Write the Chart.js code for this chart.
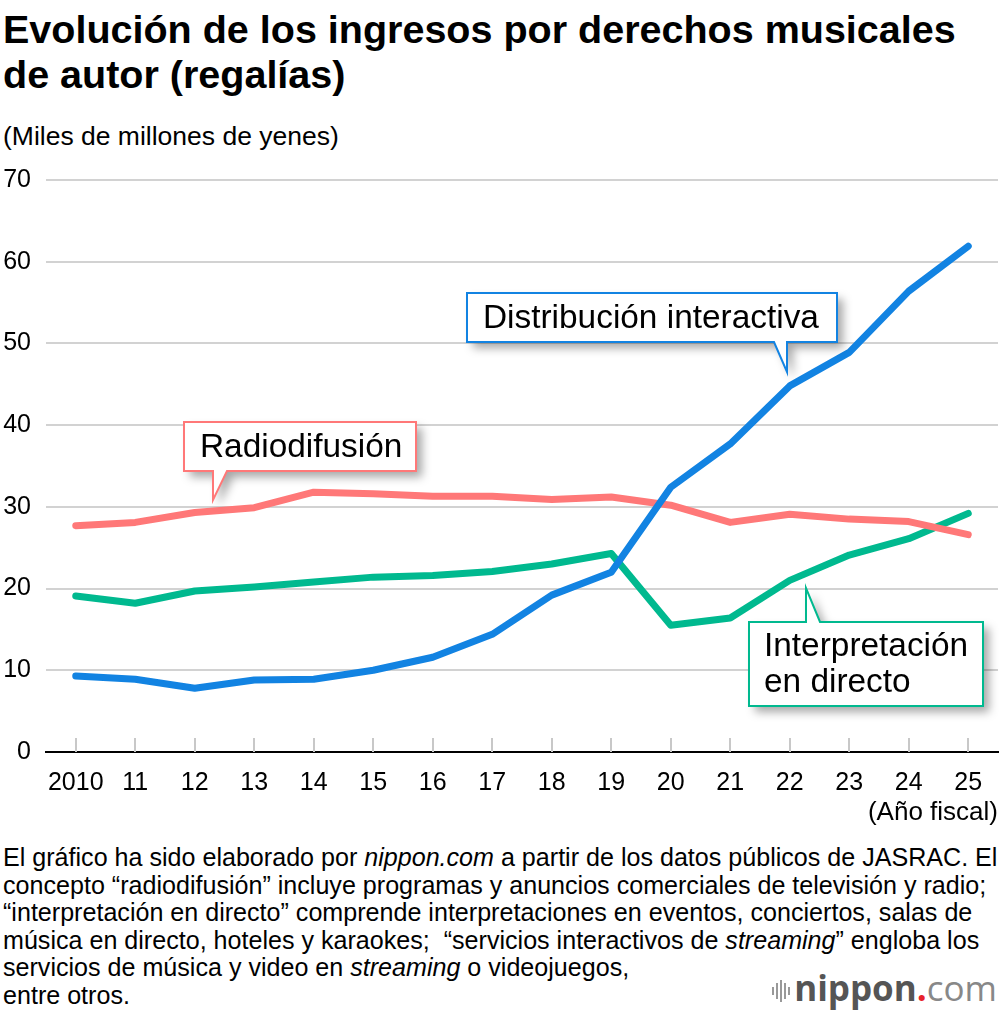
<!DOCTYPE html>
<html>
<head>
<meta charset="utf-8">
<script src="https://cdn.jsdelivr.net/npm/chart.js@4"></script>
<style>
  body { margin: 0; width: 1000px; height: 1014px; background: #fff; position: relative; overflow: hidden;
         font-family: "Liberation Sans", Arial, sans-serif; color: #000; }
  #title { position: absolute; left: 3px; top: 7px; font-size: 39.5px; font-weight: bold; line-height: 45px; white-space: nowrap; }
  #unit { position: absolute; left: 3px; top: 121px; font-size: 26.5px; white-space: nowrap; }
  #chartBox { position: absolute; left: 0; top: 150px; width: 1000px; height: 690px; }
  #note { position: absolute; left: 3px; top: 844px; font-size: 26px; line-height: 27.6px; white-space: nowrap;
          transform: scaleX(0.965); transform-origin: left top; }
  #logo { position: absolute; right: 3px; top: 968px; font-family: "Open Sans", sans-serif; font-size: 35px; line-height: 40px; }
  #logo .n { font-weight: bold; color: #555; }
  #logo .dot { font-weight: bold; color: #e8212b; }
  #logo .c { color: #888; }
  #bars { position: absolute; left: 772px; top: 980px; width: 20px; height: 22px; }
  #bars div { position: absolute; width: 2px; background: #999; }
</style>
</head>
<body>
<div id="title">Evolución de los ingresos por derechos musicales<br>de autor (regalías)</div>
<div id="unit">(Miles de millones de yenes)</div>
<div id="chartBox"><canvas id="c" width="1000" height="690"></canvas></div>
<div id="note">El gráfico ha sido elaborado por <i>nippon.com</i> a partir de los datos públicos de JASRAC. El<br>concepto “radiodifusión” incluye programas y anuncios comerciales de televisión y radio;<br>“interpretación en directo” comprende interpretaciones en eventos, conciertos, salas de<br>música en directo, hoteles y karaokes;&nbsp; “servicios interactivos de <i>streaming</i>” engloba los<br>servicios de música y video en <i>streaming</i> o videojuegos,<br>entre otros.</div>
<div id="bars">
  <div style="left:0;top:7px;height:8px"></div>
  <div style="left:4px;top:3px;height:16px"></div>
  <div style="left:8px;top:0;height:22px"></div>
  <div style="left:12px;top:3px;height:16px"></div>
  <div style="left:16px;top:7px;height:8px"></div>
</div>
<div id="logo"><span class="n">nippon</span><span class="dot">.</span><span class="c">com</span></div>

<script>
const years = ['2010', '11', '12', '13', '14', '15', '16', '17', '18', '19', '20', '21', '22', '23', '24', '25'];
const interactive = [9.3, 8.9, 7.8, 8.8, 8.9, 10.0, 11.6, 14.4, 19.2, 22.0, 32.4, 37.7, 44.8, 48.9, 56.4, 61.9];
const broadcast = [27.7, 28.1, 29.3, 29.9, 31.8, 31.6, 31.3, 31.3, 30.9, 31.2, 30.2, 28.1, 29.1, 28.5, 28.2, 26.6];
const live = [19.1, 18.2, 19.7, 20.2, 20.8, 21.4, 21.6, 22.1, 23.0, 24.3, 15.5, 16.4, 21.0, 24.1, 26.1, 29.2];
const yTicks = [0, 10, 20, 30, 40, 50, 60, 70];

const COLORS = {
    interactive: '#1283e2',
    broadcast: '#ff7878',
    live: '#00b98f',
    grid: '#d2d2d2'
};

// Callouts: box in canvas px, tail base on one edge, tip point
const callouts = [
    { lines: ['Distribución interactiva'], color: COLORS.interactive,
      x: 467, y: 143, w: 370, h: 49, tx: 483, side: 'bottom', t1: 774, t2: 787, tipX: 787, tipY: 222 },
    { lines: ['Radiodifusión'], color: COLORS.broadcast,
      x: 184, y: 272, w: 232, h: 49, tx: 200, side: 'bottom', t1: 213, t2: 227, tipX: 213, tipY: 350 },
    { lines: ['Interpretación', 'en directo'], color: COLORS.live,
      x: 749, y: 472, w: 234, h: 84, tx: 764, side: 'top', t1: 806, t2: 820, tipX: 806, tipY: 438 }
];

const tickMarks = {
    id: 'tickMarks',
    beforeDatasetsDraw(chart) {
        const { ctx, scales: { x }, chartArea } = chart;
        ctx.save();
        ctx.strokeStyle = '#c8c8c8';
        ctx.lineWidth = 2;
        years.forEach((y, i) => {
            const px = Math.round(x.getPixelForValue(i));
            ctx.beginPath();
            ctx.moveTo(px, chartArea.bottom - 14);
            ctx.lineTo(px, chartArea.bottom);
            ctx.stroke();
        });
        ctx.restore();
    }
};

const calloutPlugin = {
    id: 'callouts',
    afterDatasetsDraw(chart) {
        const ctx = chart.ctx;
        callouts.forEach(c => {
            const path = () => {
                ctx.beginPath();
                ctx.moveTo(c.x, c.y);
                if (c.side === 'top') {
                    ctx.lineTo(c.t1, c.y);
                    ctx.lineTo(c.tipX, c.tipY);
                    ctx.lineTo(c.t2, c.y);
                }
                ctx.lineTo(c.x + c.w, c.y);
                ctx.lineTo(c.x + c.w, c.y + c.h);
                if (c.side === 'bottom') {
                    ctx.lineTo(c.t2, c.y + c.h);
                    ctx.lineTo(c.tipX, c.tipY);
                    ctx.lineTo(c.t1, c.y + c.h);
                }
                ctx.lineTo(c.x, c.y + c.h);
                ctx.closePath();
            };
            ctx.save();
            ctx.shadowColor = 'rgba(0,0,0,0.35)';
            ctx.shadowBlur = 10;
            ctx.shadowOffsetX = 6;
            ctx.shadowOffsetY = 6;
            path();
            ctx.fillStyle = '#fff';
            ctx.fill();
            ctx.restore();
            ctx.save();
            path();
            ctx.lineWidth = 2;
            ctx.strokeStyle = c.color;
            ctx.lineJoin = 'miter';
            ctx.stroke();
            ctx.fillStyle = '#000';
            ctx.font = '33.4px "Liberation Sans", Arial, sans-serif';
            ctx.textBaseline = 'middle';
            const lh = 36;
            const startY = c.y + c.h / 2 - (c.lines.length - 1) * lh / 2 + 1;
            c.lines.forEach((t, i) => ctx.fillText(t, c.tx, startY + i * lh));
            ctx.restore();
        });
    }
};

new Chart(document.getElementById('c'), {
    type: 'line',
    data: {
        labels: years,
        datasets: [
            { label: 'Distribución interactiva', data: interactive, borderColor: COLORS.interactive, order: 1 },
            { label: 'Radiodifusión', data: broadcast, borderColor: COLORS.broadcast, order: 2 },
            { label: 'Interpretación en directo', data: live, borderColor: COLORS.live, order: 3 }
        ]
    },
    options: {
        responsive: false,
        animation: false,
        events: [],
        layout: { padding: { top: 9, right: 2, left: 0, bottom: 0 } },
        elements: {
            line: { borderWidth: 7, tension: 0, borderCapStyle: 'round', borderJoinStyle: 'round', fill: false },
            point: { radius: 0 }
        },
        plugins: {
            legend: { display: false },
            tooltip: { enabled: false }
        },
        scales: {
            x: {
                type: 'category',
                offset: true,
                grid: { display: false },
                border: { display: true, color: '#000', width: 2 },
                ticks: { color: '#000', font: { size: 25, family: '"Liberation Sans", Arial' }, padding: 8, maxRotation: 0, autoSkip: false },
                title: { display: true, text: '(Año fiscal)', align: 'end', color: '#000',
                         font: { size: 26, family: '"Liberation Sans", Arial' }, padding: { top: 0, bottom: 12 } },
                afterFit(scale) { scale.height = 88; }
            },
            y: {
                min: 0,
                max: 70,
                afterBuildTicks(scale) { scale.ticks = yTicks.map(v => ({ value: v })); },
                grid: { color: COLORS.grid, lineWidth: 2, drawTicks: false },
                border: { display: false },
                ticks: { color: '#000', font: { size: 25, family: '"Liberation Sans", Arial' }, padding: 15 },
                afterFit(scale) { scale.width = 46; }
            }
        }
    },
    plugins: [tickMarks, calloutPlugin]
});
</script>
</body>
</html>
